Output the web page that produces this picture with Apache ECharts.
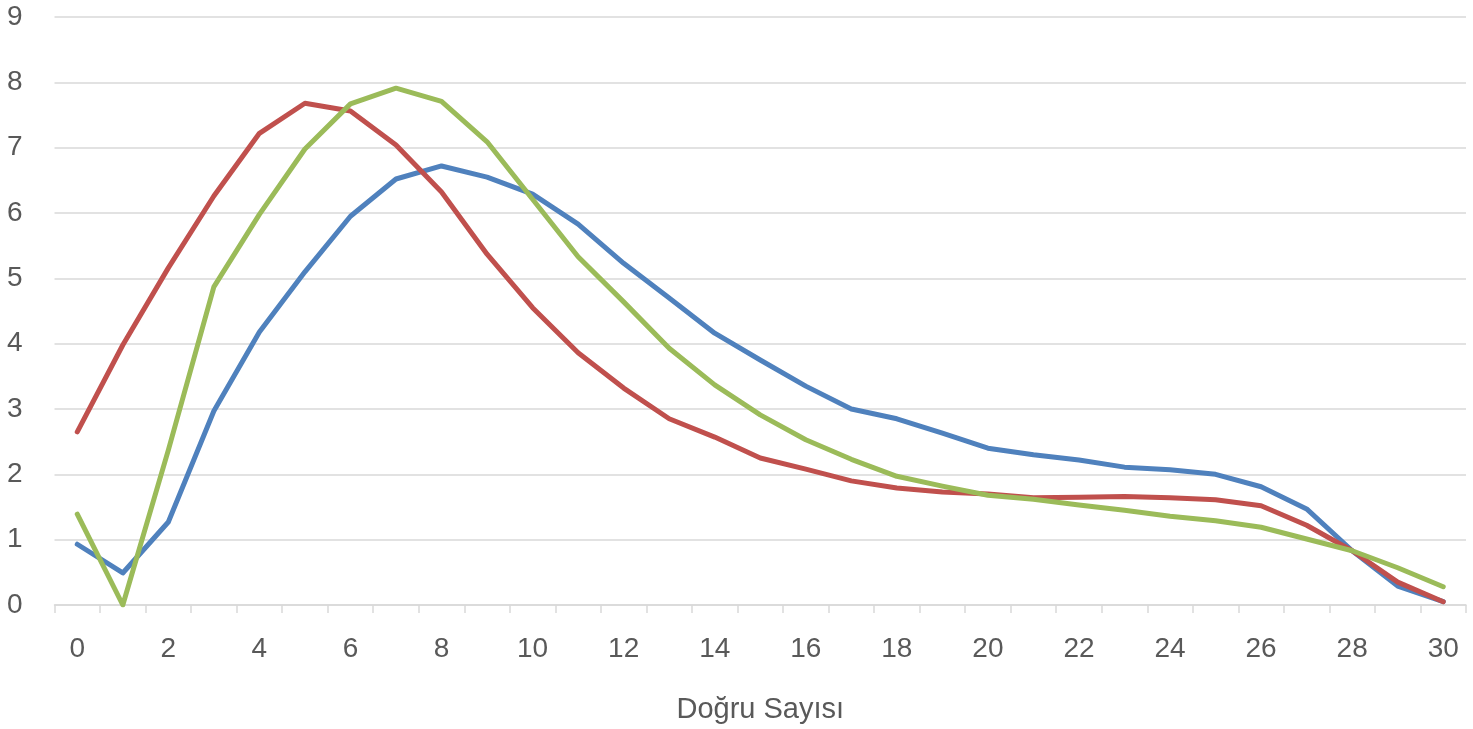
<!DOCTYPE html>
<html>
<head>
<meta charset="utf-8">
<script src="https://cdn.jsdelivr.net/npm/echarts@6/dist/echarts.min.js"></script>
<style>html,body{margin:0;padding:0;background:#fff;}#chart{width:1473px;height:729px;}</style>
</head>
<body>
<div id="chart"></div>
<script>
const categories = ['0','1','2','3','4','5','6','7','8','9','10','11','12','13','14','15','16','17','18','19','20','21','22','23','24','25','26','27','28','29','30'];
const blueValues = [0.93,0.49,1.27,2.97,4.18,5.10,5.95,6.52,6.72,6.55,6.29,5.83,5.23,4.70,4.16,3.75,3.35,3.00,2.85,2.63,2.40,2.30,2.22,2.11,2.07,2.00,1.81,1.47,0.83,0.29,0.05];
const redValues = [2.65,3.98,5.16,6.26,7.22,7.68,7.56,7.04,6.32,5.37,4.55,3.86,3.32,2.85,2.57,2.25,2.08,1.90,1.79,1.73,1.70,1.64,1.65,1.66,1.64,1.61,1.52,1.22,0.83,0.35,0.05];
const greenValues = [1.39,0.00,2.37,4.87,5.98,6.98,7.67,7.91,7.71,7.09,6.21,5.33,4.64,3.93,3.37,2.91,2.53,2.23,1.97,1.82,1.68,1.62,1.53,1.45,1.36,1.29,1.19,1.01,0.83,0.57,0.28];
const xAxisName = 'Doğru Sayısı';

const chart = echarts.init(document.getElementById('chart'));
const font = '"Liberation Sans", Arial, sans-serif';
const lineSeries = (data, color) => ({
  type: 'line', data: data, symbol: 'none', smooth: false,
  lineStyle: { color: color, width: 5, cap: 'round', join: 'round' },
  itemStyle: { color: color }
});
chart.setOption({
  animation: false,
  grid: { left: 54.5, right: 7, top: 17, bottom: 124 },
  xAxis: {
    type: 'category', data: categories, boundaryGap: true,
    name: xAxisName, nameLocation: 'middle', nameGap: 90,
    nameTextStyle: { color: '#595959', fontSize: 29, fontFamily: font },
    axisLine: { lineStyle: { color: '#d9d9d9', width: 1.5 } },
    axisTick: { show: true, interval: 0, length: 8, lineStyle: { color: '#d9d9d9', width: 1.5 } },
    axisLabel: { interval: 1, margin: 30, color: '#595959', fontSize: 28, fontFamily: font }
  },
  yAxis: {
    type: 'value', min: 0, max: 9, interval: 1,
    axisLine: { show: false }, axisTick: { show: false },
    axisLabel: { margin: 32, color: '#595959', fontSize: 28, fontFamily: font },
    splitLine: { lineStyle: { color: '#d9d9d9', width: 1.5 } }
  },
  series: [
    lineSeries(blueValues, '#4f81bd'),
    lineSeries(redValues, '#c0504d'),
    lineSeries(greenValues, '#9bbb59')
  ]
});
</script>
</body>
</html>
